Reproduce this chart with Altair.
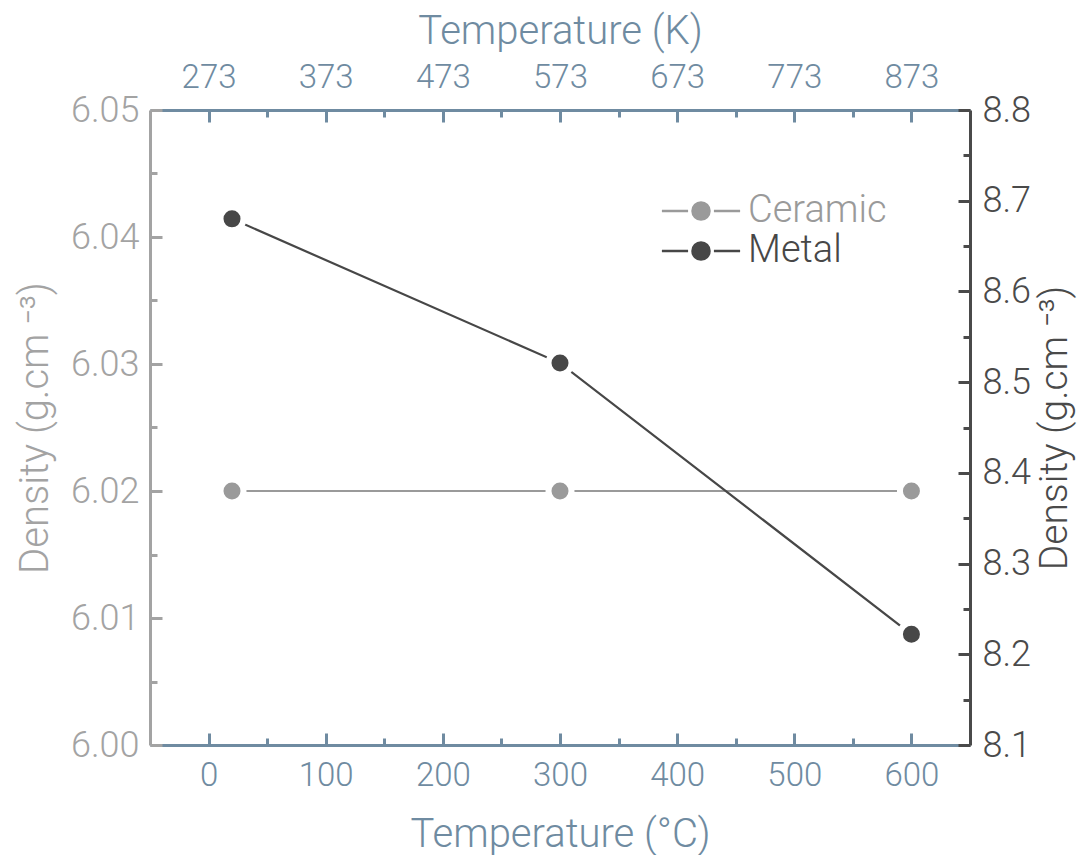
import altair as alt
import pandas as pd

# ---- data ----
temp_c = [20, 300, 600]
ceramic_density = [6.02, 6.02, 6.02]
metal_density = [8.68, 8.521, 8.222]
series_names = ["Ceramic", "Metal"]
series_colors = ["#9a9a9a", "#474747"]

x_domain = [-50, 650]
k_domain = [223, 923]
yl_domain = [6.00, 6.05]
yr_domain = [8.1, 8.8]

x_major = [0, 100, 200, 300, 400, 500, 600]
x_minor = [50, 150, 250, 350, 450, 550]
k_major = [273, 373, 473, 573, 673, 773, 873]
k_minor = [323, 423, 523, 623, 723, 823]
yl_major = [6.00, 6.01, 6.02, 6.03, 6.04, 6.05]
yl_minor = [6.005, 6.015, 6.025, 6.035, 6.045]
yr_major = [8.1, 8.2, 8.3, 8.4, 8.5, 8.6, 8.7, 8.8]
yr_minor = [8.15, 8.25, 8.35, 8.45, 8.55, 8.65, 8.75]

# ---- styling ----
FONT = "Roboto"
BLUE = "#6f8ba1"
LGREY = "#a3a3a3"
DGREY = "#4a4a4a"
XLABEL = 33
YLABEL = 36
TITLE_SIZE = 40
AXW = 3
DENSITY_TITLE = "Density (g.cm ⁻³)"

df_c = pd.DataFrame({"T": temp_c, "rho": ceramic_density, "series": series_names[0]})
df_m = pd.DataFrame({"T": temp_c, "rho": metal_density, "series": series_names[1]})

color_scale = alt.Scale(domain=series_names, range=series_colors)


def major_axis(orient, values, color, title, fmt, pad, lsize, tpad, tsize=TITLE_SIZE, **kw):
    return alt.Axis(
        orient=orient, values=values, format=fmt, title=title,
        domainColor=color, domainWidth=AXW, tickColor=color, tickWidth=AXW,
        tickSize={"expr": "-12"}, labelColor=color, labelFontSize=lsize,
        labelFont=FONT, labelFontWeight=300, labelPadding=pad,
        titleColor=color, titleFontSize=tsize, titleFont=FONT,
        titleFontWeight=300, titlePadding=tpad, grid=False, labelFlush=False,
        labelOverlap=False, **kw,
    )


def minor_axis(orient, values, color):
    return alt.Axis(
        orient=orient, values=values, labels=False, domain=False, title=None,
        tickColor=color, tickWidth=AXW, tickSize={"expr": "-7"}, grid=False,
    )


legend = alt.Legend(
    orient="none", legendX=532, legendY=82, title=None,
    symbolType="M-2.3,0H-0.76M0.76,0H2.3M-0.5,0A0.5,0.5,0,1,1,0.5,0A0.5,0.5,0,1,1,-0.5,0Z",
    symbolSize=1156, symbolStrokeWidth=2.5, symbolOpacity=1,
    labelFont=FONT, labelFontSize=38, labelFontWeight=300,
    labelOffset=28, rowPadding=2, padding=0,
    labelColor={"expr": f"datum.label == 'Metal' ? '{series_colors[1]}' : '{series_colors[0]}'"},
)

# ceramic: bottom (°C) and left axes
xc = alt.X("T:Q", scale=alt.Scale(domain=x_domain, nice=False, zero=False),
           axis=major_axis("bottom", x_major, BLUE, "Temperature (°C)", "d", 26, XLABEL, 22))
yc = alt.Y("rho:Q", scale=alt.Scale(domain=yl_domain, nice=False, zero=False),
           axis=major_axis("left", yl_major, LGREY, DENSITY_TITLE, ".2f", 23, YLABEL, 15))
col = alt.Color("series:N", scale=color_scale, legend=legend)
base_c = alt.Chart(df_c).encode(x=xc, y=yc, color=col)
ceramic = alt.layer(
    base_c.mark_line(strokeWidth=2.2),
    base_c.mark_circle(size=530, opacity=1, stroke="white", strokeWidth=6),
)

# metal: top (K) and right axes
xm = alt.X("K:Q", scale=alt.Scale(domain=k_domain, nice=False, zero=False),
           axis=major_axis("top", k_major, BLUE, "Temperature (K)", "d", 28, XLABEL, 10))
ym = alt.Y("rho:Q", scale=alt.Scale(domain=yr_domain, nice=False, zero=False),
           axis=major_axis("right", yr_major, DGREY, DENSITY_TITLE, ".1f", 24, YLABEL, 5,
                           tsize=39, titleAngle=270, titleBaseline="top"))
base_m = alt.Chart(df_m).transform_calculate(K="datum.T + 273").encode(x=xm, y=ym, color=col)
metal = alt.layer(
    base_m.mark_line(strokeWidth=2.2),
    base_m.mark_circle(size=530, opacity=1, stroke="white", strokeWidth=6),
)

# minor ticks (same scales, extra axes)
minor_c = alt.Chart(df_c).mark_circle(opacity=0).encode(
    x=alt.X("T:Q", scale=alt.Scale(domain=x_domain, nice=False, zero=False),
            axis=minor_axis("bottom", x_minor, BLUE)),
    y=alt.Y("rho:Q", scale=alt.Scale(domain=yl_domain, nice=False, zero=False),
            axis=minor_axis("left", yl_minor, LGREY)),
)
minor_m = alt.Chart(df_m).transform_calculate(K="datum.T + 273").mark_circle(opacity=0).encode(
    x=alt.X("K:Q", scale=alt.Scale(domain=k_domain, nice=False, zero=False),
            axis=minor_axis("top", k_minor, BLUE)),
    y=alt.Y("rho:Q", scale=alt.Scale(domain=yr_domain, nice=False, zero=False),
            axis=minor_axis("right", yr_minor, DGREY)),
)

chart = (
    alt.layer(minor_c, minor_m, ceramic, metal)
    .resolve_scale(x="independent", y="independent")
    .properties(
        width=820, height=635,
        autosize=alt.AutoSizeParams(type="none"),
        padding={"left": 142, "top": 102, "right": 113, "bottom": 110},
    )
    .configure_view(stroke=None)
    .configure(background="white")
)

chart.save("out.html", embed_options={"renderer": "svg", "actions": False})
